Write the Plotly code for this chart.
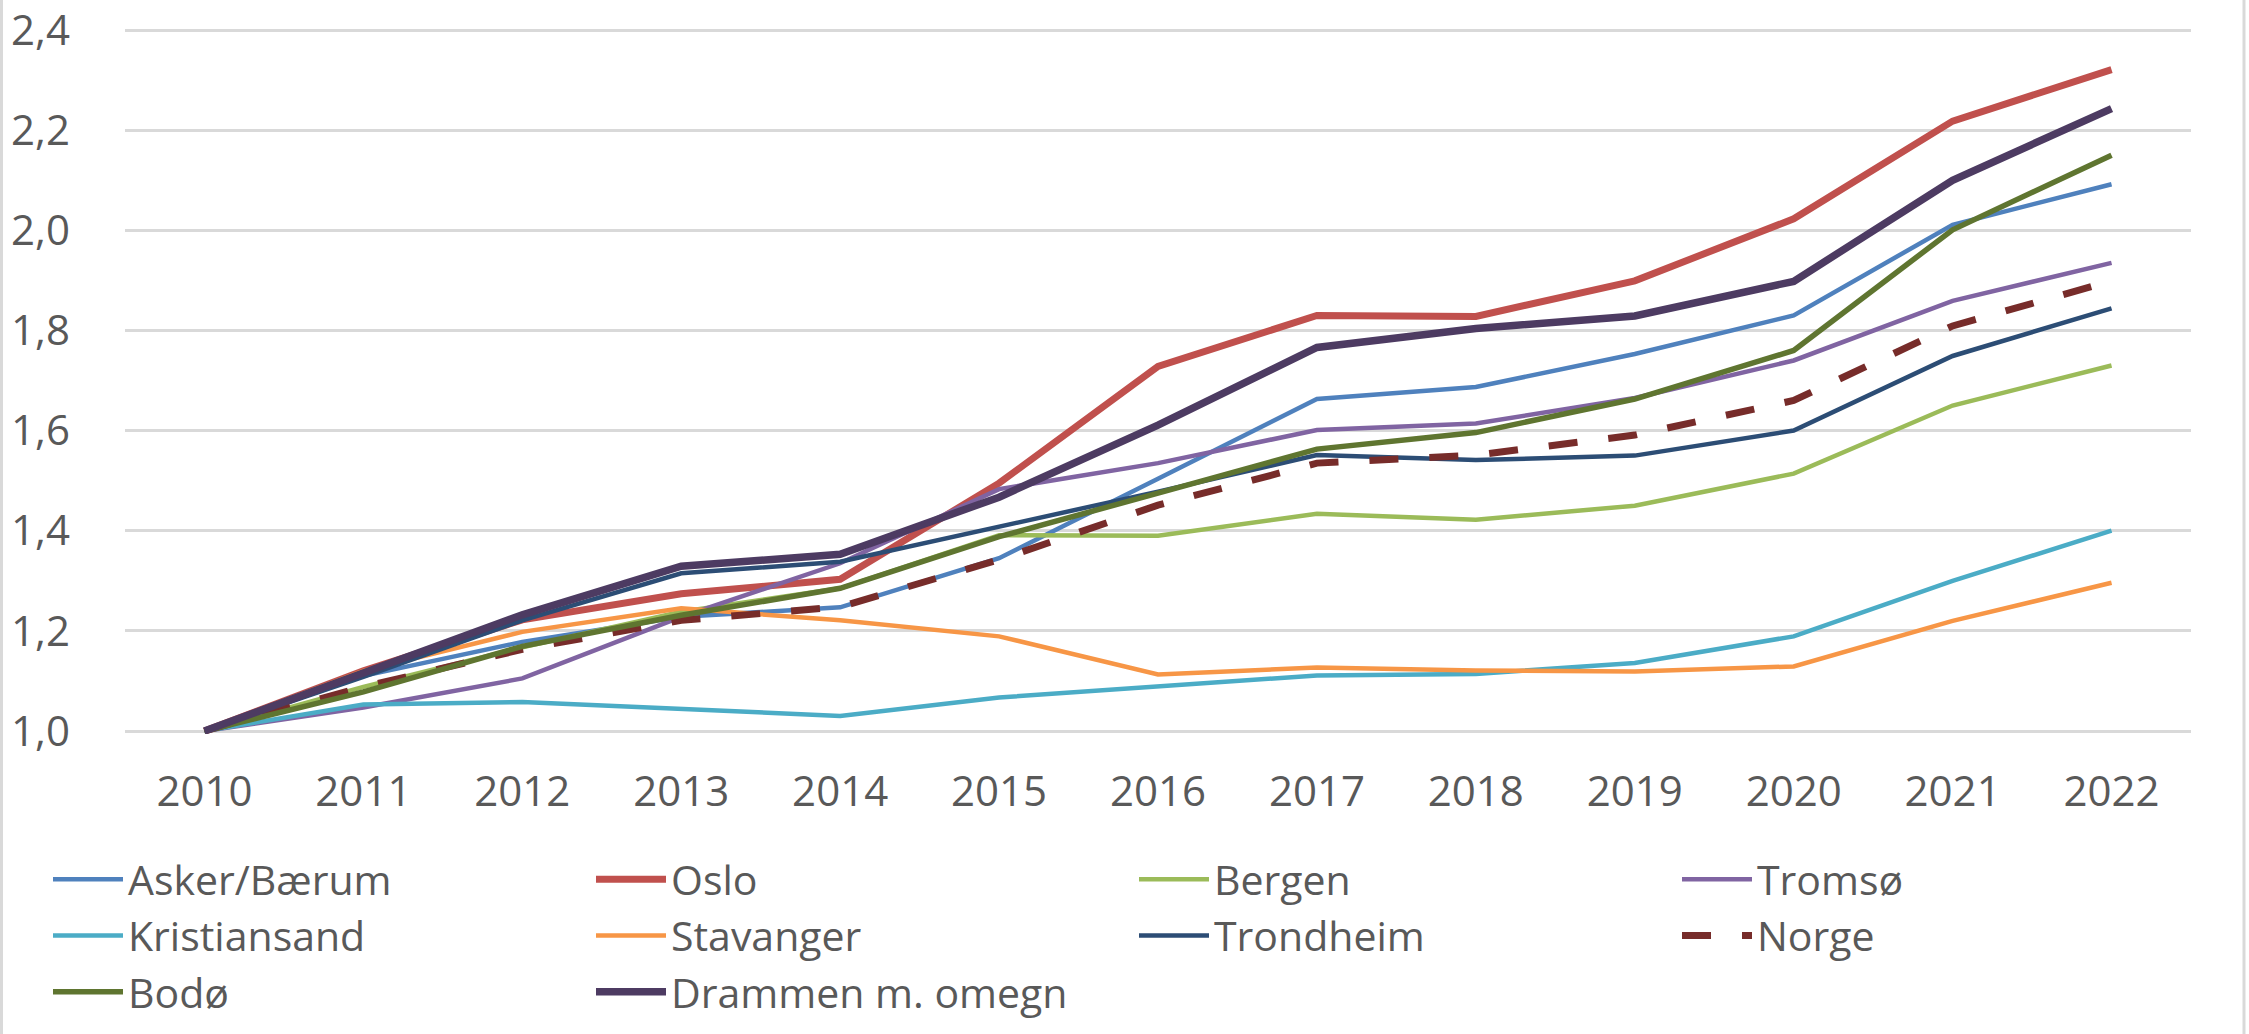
import plotly.graph_objects as go

years = ["2010", "2011", "2012", "2013", "2014", "2015", "2016",
         "2017", "2018", "2019", "2020", "2021", "2022"]

asker = [1.00, 1.110, 1.178, 1.228, 1.247, 1.345, 1.504, 1.663, 1.687, 1.753, 1.830, 2.011, 2.092]
oslo = [1.00, 1.120, 1.222, 1.274, 1.303, 1.495, 1.728, 1.830, 1.828, 1.899, 2.023, 2.218, 2.321]
bergen = [1.00, 1.088, 1.167, 1.238, 1.285, 1.391, 1.390, 1.434, 1.422, 1.450, 1.514, 1.650, 1.730]
tromso = [1.00, 1.047, 1.105, 1.228, 1.335, 1.483, 1.535, 1.601, 1.614, 1.665, 1.740, 1.859, 1.935]
kristiansand = [1.00, 1.053, 1.058, 1.045, 1.030, 1.067, 1.089, 1.111, 1.114, 1.136, 1.189, 1.300, 1.400]
stavanger = [1.00, 1.120, 1.198, 1.245, 1.221, 1.189, 1.113, 1.127, 1.121, 1.119, 1.129, 1.220, 1.296]
trondheim = [1.00, 1.108, 1.221, 1.315, 1.338, 1.408, 1.478, 1.551, 1.541, 1.550, 1.600, 1.749, 1.844]
norge = [1.00, 1.088, 1.163, 1.221, 1.248, 1.342, 1.451, 1.535, 1.551, 1.591, 1.660, 1.809, 1.899]
bodo = [1.00, 1.078, 1.169, 1.231, 1.285, 1.388, 1.475, 1.563, 1.596, 1.663, 1.760, 2.001, 2.150]
drammen = [1.00, 1.116, 1.232, 1.329, 1.353, 1.467, 1.611, 1.766, 1.804, 1.829, 1.898, 2.100, 2.243]

y_ticks = [1.0, 1.2, 1.4, 1.6, 1.8, 2.0, 2.2, 2.4]
y_tick_labels = ["1,0", "1,2", "1,4", "1,6", "1,8", "2,0", "2,2", "2,4"]

series = [
    ("Asker/Bærum", asker, "#4F81BD", 4.5, "solid"),
    ("Oslo", oslo, "#C0504D", 7, "solid"),
    ("Bergen", bergen, "#9BBB59", 4.5, "solid"),
    ("Tromsø", tromso, "#8064A2", 4.5, "solid"),
    ("Kristiansand", kristiansand, "#4BACC6", 4.5, "solid"),
    ("Stavanger", stavanger, "#F79646", 4.5, "solid"),
    ("Trondheim", trondheim, "#2C4D75", 4.5, "solid"),
    ("Norge", norge, "#772C2A", 7, "29px,31px"),
    ("Bodø", bodo, "#5F7530", 5.5, "solid"),
    ("Drammen m. omegn", drammen, "#4D3B62", 7.5, "solid"),
]

W, H = 2249, 1034
# target pixel positions of the value grid (page coordinates)
Y_TOP_PX, Y_BOT_PX = 30, 731          # 2.4 and 1.0
X_LEFT_PX, X_RIGHT_PX = 125, 2191     # plot area horizontal extent
Y_MIN, Y_MAX = 1.0, 2.4
PAD = 0.006                            # small range padding so end gridlines are drawn
px_per_unit = (Y_BOT_PX - Y_TOP_PX) / (Y_MAX - Y_MIN)
MT = round(Y_TOP_PX - PAD * px_per_unit)
MB = H - round(Y_BOT_PX + PAD * px_per_unit)
ML, MR = X_LEFT_PX, W - X_RIGHT_PX
PW, PH = W - ML - MR, H - MT - MB

FONT = "Open Sans"
GREY = "#595959"

fig = go.Figure()
for name, vals, col, w, dash in series:
    fig.add_trace(go.Scatter(
        x=years, y=vals, name=name, mode="lines",
        line=dict(color=col, width=w, dash=dash),
    ))

def px2paper_x(px):
    return (px - ML) / PW

def px2paper_y(py):
    return (H - MB - py) / PH

shapes = []
for bx in (1.5, 2244):
    shapes.append(dict(type="line", xref="paper", yref="paper",
                       x0=px2paper_x(bx), x1=px2paper_x(bx),
                       y0=px2paper_y(0), y1=px2paper_y(H),
                       line=dict(color="#D9D9D9", width=3)))

fig.update_layout(
    width=W, height=H,
    margin=dict(l=ML, r=MR, t=MT, b=MB, autoexpand=False),
    paper_bgcolor="white", plot_bgcolor="white",
    font=dict(family=FONT, size=42, color=GREY),
    showlegend=True,
    legend=dict(
        orientation="h",
        x=px2paper_x(48), xanchor="left",
        y=px2paper_y(846), yanchor="top",
        entrywidth=458, entrywidthmode="pixels",
        itemwidth=70,
        font=dict(family=FONT, size=41, color=GREY),
        traceorder="normal",
        tracegroupgap=0,
        bgcolor="rgba(0,0,0,0)",
    ),
    shapes=shapes,
    xaxis=dict(
        type="category", range=[-0.5, 12.5],
        showgrid=False, showline=False, zeroline=False,
        ticks="", ticklabelstandoff=29,
        tickfont=dict(family=FONT, size=42, color=GREY),
    ),
    yaxis=dict(
        range=[Y_MIN - PAD, Y_MAX + PAD],
        tickmode="array", tickvals=y_ticks, ticktext=y_tick_labels,
        showgrid=True, gridcolor="#D9D9D9", gridwidth=2.5,
        zeroline=False, showline=False, ticks="",
        ticklabelstandoff=54, ticklabeloverflow="allow",
        tickfont=dict(family=FONT, size=42, color=GREY),
    ),
)

fig.write_html("out.html", config={"displayModeBar": False},
               post_script="document.body.style.margin='0';")
